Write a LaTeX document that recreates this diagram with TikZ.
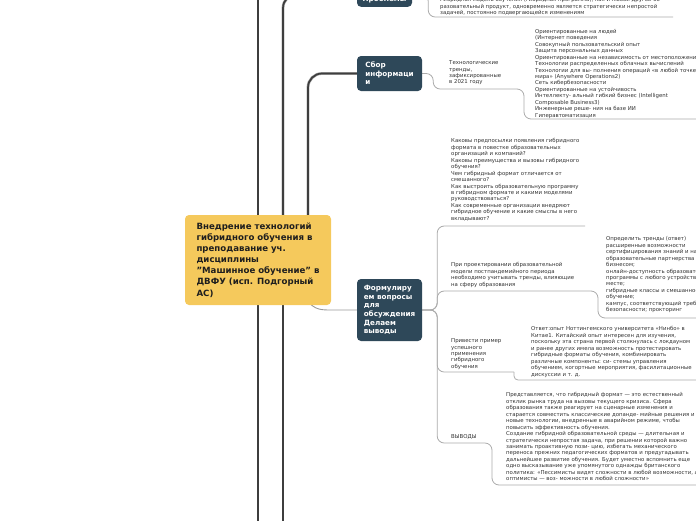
\documentclass[tikz,border=0pt]{standalone}
\usepackage{fontspec}
\setmainfont{DejaVu Sans}
\usetikzlibrary{backgrounds}
\definecolor{topicfill}{HTML}{2E4859}
\definecolor{rootfill}{HTML}{F5C95C}
\definecolor{trunkcore}{HTML}{3E3E3E}
\definecolor{trunkedge}{HTML}{A5A5A5}
\definecolor{branchgray}{HTML}{ABABAB}
\definecolor{linkgray}{HTML}{999999}
\definecolor{notetext}{HTML}{333333}
\definecolor{roottext}{HTML}{1E1E1E}
\begin{document}
\begin{tikzpicture}[x=1pt,y=-1pt,
  rootbox/.style={fill=rootfill, rounded corners=4pt, text=roottext,
    font=\bfseries\fontsize{8.6}{11.1}\selectfont, align=left,
    minimum width=146pt, minimum height=90pt},
  topic/.style={fill=topicfill, rounded corners=4pt, text=white,
    font=\bfseries\fontsize{7.2}{8.6}\selectfont, align=left,
    minimum width=65pt},
  note/.style={font=\fontsize{5.4}{6.45}\selectfont, text=notetext,
    align=left, inner sep=0pt, anchor=north west},
  trunk/.style={line width=1.7pt, draw=trunkcore,
    preaction={draw=trunkedge, line width=2.8pt}},
  branch/.style={line width=0.8pt, draw=branchgray, rounded corners=7pt},
  rootlink/.style={line width=0.9pt, draw=linkgray},
]
\useasboundingbox (0,0) rectangle (696,520);
\clip (0,0) rectangle (696,520);

% ---------- nodes ----------
\node[rootbox] (root) at (258,260) {Внедрение технологий\\гибридного обучения в\\преподавание уч.\\дисциплины\\\char"0022 Машинное обучение\char"0022{} в\\ДВФУ (исп. Подгорный\\АС)};

\node[topic, minimum width=55pt, text height=16pt, text depth=1.5pt, inner ysep=4pt, anchor=south] (probl) at (384.5,7) {Проблемы};
\node[topic, minimum height=35pt] (sbor) at (389.5,73.5) {Сбор\\информаци\\и};
\node[topic, minimum height=62pt] (form) at (389.5,310) {Формулиру\\ем вопросы\\для\\обсуждения\\Делаем\\выводы};

\node[note] (pnote) at (440,-2.6) {Гибридная модель обучения (гибридная программа), как и любой другой об-\\разовательный продукт, одновременно является стратегически непростой\\задачей, постоянно подвергающейся изменениям};

\node[note] (ttr) at (449,60.5) {Технологические\\тренды,\\зафиксированные\\в 2021 году};

\node[note] (tlist) at (535,29) {Ориентированные на людей\\(Интернет поведения\\Совокупный пользовательский опыт\\Защита персональных данных\\Ориентированные на независимость от местоположения\\Технологии распределенных облачных вычислений\\Технологии для вы- полнения операций «в любой точке\\мира» (Anywhere Operations2)\\Сеть кибербезопасности\\Ориентированные на устойчивость\\Интеллекту- альный гибкий бизнес (Intelligent\\Composable Business3)\\Инженерные реше- ния на базе ИИ\\Гиперавтоматизация};

\node[note] (quest) at (451,138.5) {Каковы предпосылки появления гибридного\\формата в повестке образовательных\\организаций и компаний?\\Каковы преимущества и вызовы гибридного\\обучения?\\Чем гибридный формат отличается от\\смешанного?\\Как выстроить образовательную программу\\в гибридном формате и какими моделями\\руководствоваться?\\Как современные организации внедряют\\гибридное обучение и какие смыслы в него\\вкладывают?};

\node[note] (proj) at (451,262.5) {При проектировании образовательной\\модели постпандемийного периода\\необходимо учитывать тренды, влияющие\\на сферу образования};

\node[note] (projans) at (606,236.5) {Определить тренды (ответ)\\расширенные возможности\\сертифицирования знаний и навыков;\\образовательные партнерства с\\бизнесом;\\онлайн-доступность образовательной\\программы с любого устройства и в любом\\месте;\\гибридные классы и смешанное\\обучение;\\кампус, соответствующий требованиям\\безопасности; прокторинг};

\node[note] (ex) at (451,338.5) {Привести пример\\успешного\\применения\\гибридного\\обучения};

\node[note] (exans) at (531,326.5) {Ответ:опыт Ноттингемского университета «Нинбо» в\\Китае1. Китайский опыт интересен для изучения,\\поскольку эта страна первой столкнулась с локдауном\\и ранее других имела возможность протестировать\\гибридные форматы обучения, комбинировать\\различные компоненты: си- стемы управления\\обучением, когортные мероприятия, фасилитационные\\дискуссии и т. д.};

\node[note] (vyv) at (451,434.5) {ВЫВОДЫ};

\node[note] (vyvans) at (506,392.5) {Представляется, что гибридный формат — это естественный\\отклик рынка труда на вызовы текущего кризиса. Сфера\\образования также реагирует на сценарные изменения и\\старается совместить классические допанде- мийные решения и\\новые технологии, внедренные в аварийном режиме, чтобы\\повысить эффективность обучения.\\Создание гибридной образовательной среды — длительная и\\стратегически непростая задача, при решении которой важно\\занимать проактивную пози- цию, избегать механического\\переноса прежних педагогических форматов и предугадывать\\дальнейшее развитие обучения. Будет уместно вспомнить еще\\одно высказывание уже упомянутого однажды британского\\политика: «Пессимисты видят сложности в любой возможности, а\\оптимисты — воз- можности в любой сложности»};

% ---------- connectors ----------
\begin{scope}[on background layer]
\clip (0,0) rectangle (696,520);
% trunks from the root
\draw[trunk] (root.center) -- ++(0,-280);
\draw[trunk] (root.center) -- ++(0,280);
\draw[trunk, rounded corners=14pt] ([xshift=25pt]root.center) |- (probl.west);
\draw[trunk] ([xshift=25pt]root.center) -- ++(0,280);
\draw[trunk, rounded corners=14pt] ([xshift=50pt]root.center) |- (sbor.west);
% root to form
\draw[rootlink] ([xshift=45pt,yshift=11pt]root.south) .. controls (312,309) and (318,310) .. (330,310) -- (form.west);
% problems
\draw[branch] (probl.east) -- ++(16,0) |- (673,17);
% sbor
\draw[branch] (sbor.east) -- ++(11,0) |- (524,89) |- (700,119);
% form fan
\draw[branch] (form.east) -- ++(15,0) |- (585,226);
\draw[branch] (form.east) -- ++(15,0) |- (598,291) |- (700,318);
\draw[branch] (form.east) -- ++(15,0) |- (514,372);
\draw[branch, rounded corners=4pt] (514,372) |- (700,380);
\draw[branch] (form.east) -- ++(15,0) |- (492,443) |- (700,485);
\end{scope}
\end{tikzpicture}
\end{document}
